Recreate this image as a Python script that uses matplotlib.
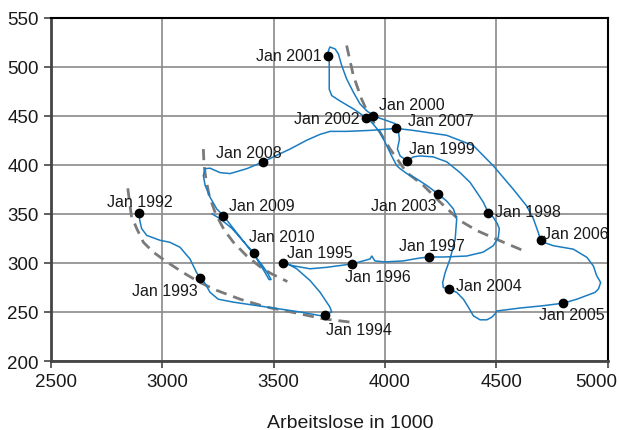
"""Beveridge curve: vacancies vs. unemployed, monthly path 1992-2010."""

import matplotlib

matplotlib.use("Agg")
import matplotlib.pyplot as plt
import matplotlib.transforms as mtransforms

plt.rcParams["font.family"] = ["Liberation Sans", "DejaVu Sans"]

# Monthly path (unemployed in 1000, vacancies in 1000)
path_x = [
    2896, 2900, 2908, 2931, 2991, 3035, 3080, 3125, 3155, 3171,
    3193, 3215, 3252, 3320, 3380, 3439, 3529, 3619, 3716, 3732,
    3761, 3753, 3709, 3664, 3604, 3559, 3541,
    3589, 3664, 3739, 3854, 3933, 3941, 3955, 4000, 4082, 4157, 4199,
    4262, 4367, 4441, 4486, 4509, 4513, 4504, 4486, 4464,
    4441, 4412, 4382, 4337, 4277, 4217, 4157, 4127, 4100,
    4068, 4056, 4065, 4060, 4045, 4008, 3963, 3948,
    3918, 3888, 3858, 3828, 3806, 3791, 3776, 3753, 3746, 3746,
    3750, 3750, 3761, 3798, 3858, 3903, 3915,
    3941, 3978, 4008, 4030, 4053, 4068, 4098, 4143, 4187, 4240,
    4277, 4307, 4322, 4315, 4292, 4270, 4259, 4262, 4288,
    4322, 4352, 4374, 4397, 4427, 4457, 4479, 4494, 4502, 4606, 4711, 4801,
    4861, 4943, 4958, 4968, 4950, 4935, 4906, 4845, 4756, 4711, 4699,
    4688, 4666, 4636, 4576, 4486, 4397, 4277, 4127, 4050,
    3933, 3828, 3754, 3709, 3649, 3574, 3499, 3454,
    3380, 3305, 3260, 3215, 3193, 3185, 3193, 3215, 3245, 3275,
    3320, 3380, 3417, 3448, 3475, 3489, 3480, 3457, 3430, 3412,
    3372, 3314, 3260, 3224,
]
path_y = [
    351, 343, 335, 328, 323, 321, 316, 304, 290, 285,
    279, 270, 263, 260, 258, 256, 253, 250, 246, 247,
    250, 255, 270, 282, 294, 299.6, 300,
    297, 294, 295.5, 299, 304, 307, 302, 301, 302, 305, 306,
    306, 307, 311, 317.5, 326, 335, 340, 346.5, 351,
    362, 372, 382, 392, 403, 408, 409, 408, 404,
    409, 416, 426, 435, 442, 445, 448.5, 450,
    455, 462, 474, 487.5, 501, 513, 518, 520, 516, 511,
    504.5, 477, 470.5, 465, 457, 450, 448,
    443, 433, 419.5, 409, 399, 396, 391, 385.5, 379, 370,
    363, 355, 345, 324, 304, 290, 280, 275, 273,
    270, 263, 255, 246, 242, 242, 244.6, 248, 251, 254, 256.4, 259,
    263, 270, 273.4, 280, 287, 297, 305.7, 314, 317.5, 321, 323,
    331, 345, 358, 375, 399, 419.5, 430, 435, 437,
    435, 434, 434, 431, 425, 416, 408, 403,
    396, 391, 392, 396.5, 396, 389, 379, 367, 355, 348,
    335, 317.5, 307, 298, 289, 283, 283, 292, 302, 310,
    320, 335, 345, 350,
]

# January markers
dot_labels = [f"Jan {year}" for year in range(1992, 2011)]
dot_x = [2896, 3171, 3732, 3541, 3854, 4199, 4464, 4100, 3948, 3746,
         3915, 4240, 4288, 4801, 4699, 4050, 3454, 3275, 3412]
dot_y = [351, 285, 247, 300, 299, 306, 351, 404, 450, 511,
         448, 370, 273, 259, 323, 437, 403, 348, 310]

# Dashed reference curves
curve1_x = [2846, 2855, 2862, 2886, 2916, 2960, 3021, 3095, 3170, 3245, 3350, 3469, 3600, 3723, 3851]
curve1_y = [376, 360, 348, 335, 321, 311, 301, 290, 280, 272, 263, 255, 249, 243, 239.5]
curve2_x = [3185, 3188, 3197, 3212, 3240, 3280, 3320, 3380, 3440, 3490, 3562]
curve2_y = [416, 400, 385, 368, 350, 333, 321, 307, 296, 289, 281]
curve3_x = [3828, 3858, 3895, 3925, 3978, 4023, 4098, 4172, 4247, 4337, 4412, 4501, 4621]
curve3_y = [521.5, 491, 467, 452, 433, 416, 392, 379, 362, 343, 333, 324, 312.5]

# label offsets in pixels (dx, dy, ha)
label_offsets = [
    (1, 11, "center"), (-2, -13, "right"), (1, -15, "left"), (4, 10, "left"),
    (25, -13, "center"), (3, 12, "center"), (7, 1, "left"), (2, 12, "left"),
    (6, 11, "left"), (-7, 0, "right"), (-7, -1, "right"), (-2, -11, "right"),
    (7, 4, "left"), (8, -11, "center"), (2, 7, "left"), (12, 8, "left"),
    (-14, 9, "center"), (6, 10, "left"), (-5, 17, "left"),
]

fig = plt.figure(figsize=(6.19, 4.31), dpi=100)
ax = fig.add_axes([0.0819, 0.160, 0.900, 0.797])

ax.grid(True, color="#8a8a8a", linewidth=1.2)
ax.set_axisbelow(True)

for cx, cy in [(curve1_x, curve1_y), (curve2_x, curve2_y), (curve3_x, curve3_y)]:
    ax.plot(cx, cy, color="#7a7a7a", linestyle=(0, (4, 2.5)), linewidth=2.0, zorder=2)

ax.plot(path_x, path_y, color="#1a7cc1", linewidth=1.1, zorder=3)
ax.plot(dot_x, dot_y, "o", color="black", markersize=6, zorder=4)

for label, x, y, (dx, dy, ha) in zip(dot_labels, dot_x, dot_y, label_offsets):
    ax.annotate(label, (x, y), xytext=(dx, dy), textcoords="offset pixels",
                ha=ha, va="center", fontsize=11.5, color="#1a1a1a", zorder=5)

ax.set_xlim(2500, 5000)
ax.set_ylim(200, 550)
ax.set_xticks(range(2500, 5001, 500))
ax.set_yticks(range(200, 551, 50))
ax.tick_params(labelsize=13.5, length=5, width=1.2, color="#444444", labelcolor="#1a1a1a")

# x tick labels sit a little right of their ticks; the last one stays inside the figure
xlabels = ax.get_xticklabels()
for lbl in xlabels[:-1]:
    lbl.set_transform(lbl.get_transform() + mtransforms.ScaledTranslation(0.05, 0, fig.dpi_scale_trans))
xlabels[-1].set_ha("right")
xlabels[-1].set_transform(xlabels[-1].get_transform() + mtransforms.ScaledTranslation(0.09, 0, fig.dpi_scale_trans))

for side in ["left", "bottom"]:
    ax.spines[side].set_color("#444444")
    ax.spines[side].set_linewidth(2)
for side in ["top", "right"]:
    ax.spines[side].set_color("black")
    ax.spines[side].set_linewidth(1.5)

ax.set_xlabel("Arbeitslose in 1000", fontsize=14, color="#1a1a1a")
ax.xaxis.set_label_coords(0.537, -0.153)
ax.xaxis.label.set_va("top")

fig.savefig("out.png", dpi=100)
